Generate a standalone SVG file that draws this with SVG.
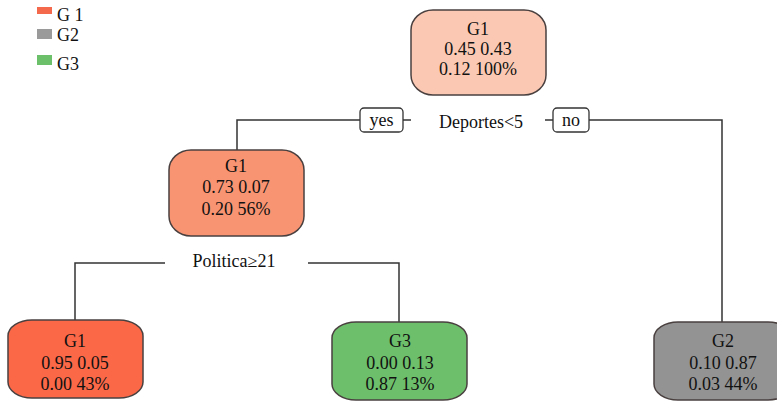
<svg xmlns="http://www.w3.org/2000/svg" width="777" height="406" viewBox="0 0 777 406" font-family="Liberation Serif, Times New Roman, serif">
<style>
text{font-family:'Liberation Serif','DejaVu Serif',serif;font-size:18px;fill:#111;}
.c{text-anchor:middle;}
.node{stroke:#4a4040;stroke-width:1.5;}
.edge{fill:none;stroke:#333;stroke-width:1.5;}
.lab{fill:#fff;stroke:#333;stroke-width:1.3;}
</style>
<rect width="777" height="406" fill="#fff"/>
<g id="legend">
<rect x="37" y="7" width="15" height="7" fill="#f4694c"/>
<text x="57" y="21">G 1</text>
<rect x="37" y="29" width="15" height="10" fill="#9a9a9a"/>
<text x="57" y="41">G2</text>
<rect x="37" y="55" width="15" height="10" fill="#6cc06a"/>
<text x="57" y="70">G3</text>
</g>
<g id="connectors">
<path class="edge" d="M360 120 H237 V150"/>
<path class="edge" d="M403 120 H411"/>
<path class="edge" d="M545 120 H553"/>
<path class="edge" d="M589 120 H722 V322"/>
<path class="edge" d="M165 263 H75 V320"/>
<path class="edge" d="M308 263 H399 V322"/>
</g>
<g id="split-root">
<rect class="lab" x="360" y="108" width="43" height="24" rx="4"/>
<text class="c" x="381.5" y="126">yes</text>
<text class="c" x="481" y="128">Deportes&lt;5</text>
<rect class="lab" x="553" y="108" width="36" height="24" rx="4"/>
<text class="c" x="571" y="126">no</text>
</g>
<g id="split-left">
<text class="c" x="234" y="267">Politica≥21</text>
</g>
<g id="node-root">
<rect class="node" x="411" y="10" width="135" height="85" rx="22" ry="20" fill="#fbc9b3"/>
<text class="c" x="478" y="35">G1</text>
<text class="c" x="478" y="55">0.45 0.43</text>
<text class="c" x="478" y="75">0.12 100%</text>
</g>
<g id="node-left">
<rect class="node" x="169" y="150" width="135" height="86" rx="22" ry="20" fill="#f99472"/>
<text class="c" x="236" y="172">G1</text>
<text class="c" x="236" y="193">0.73 0.07</text>
<text class="c" x="236" y="215">0.20 56%</text>
</g>
<g id="node-ll">
<rect class="node" x="8" y="320" width="135" height="78" rx="24" ry="16" fill="#fb6848"/>
<text class="c" x="75" y="347">G1</text>
<text class="c" x="75" y="369">0.95 0.05</text>
<text class="c" x="75" y="390">0.00 43%</text>
</g>
<g id="node-lr">
<rect class="node" x="332" y="322" width="135" height="78" rx="24" ry="16" fill="#6dbf6b"/>
<text class="c" x="400" y="347">G3</text>
<text class="c" x="400" y="369">0.00 0.13</text>
<text class="c" x="400" y="390">0.87 13%</text>
</g>
<g id="node-right">
<rect class="node" x="654" y="322" width="138" height="78" rx="24" ry="16" fill="#939393"/>
<text class="c" x="723" y="347">G2</text>
<text class="c" x="723" y="369">0.10 0.87</text>
<text class="c" x="723" y="390">0.03 44%</text>
</g>
</svg>
